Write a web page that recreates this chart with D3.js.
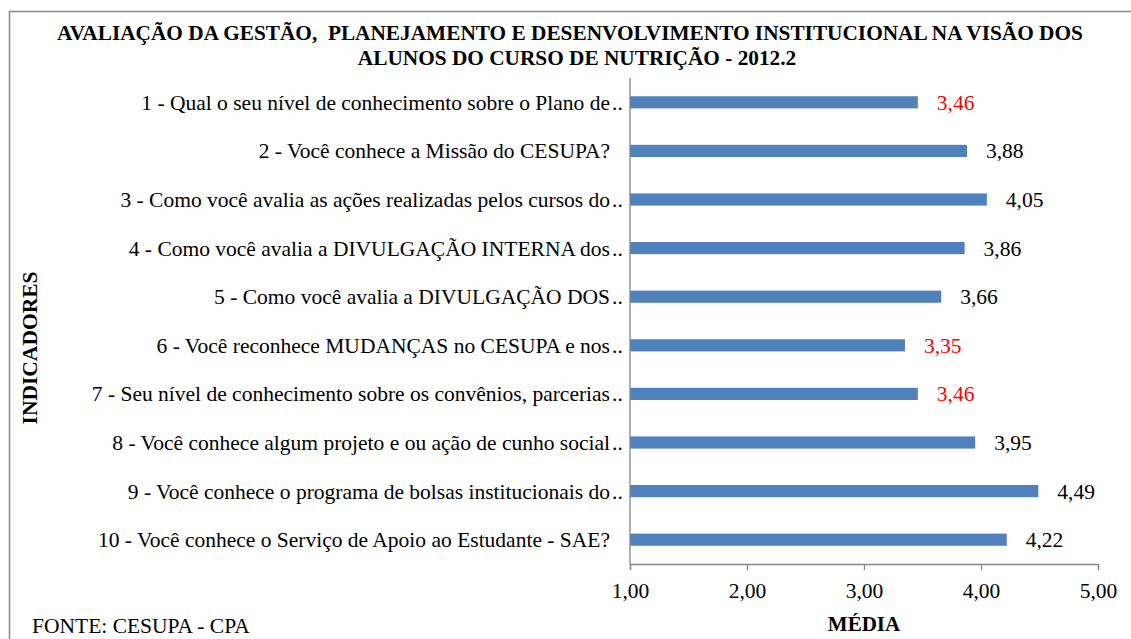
<!DOCTYPE html>
<html>
<head>
<meta charset="utf-8">
<script src="https://cdn.jsdelivr.net/npm/d3@7"></script>
<style>
  body { margin: 0; background: #fff; }
  svg text { font-family: 'Liberation Serif', 'Times New Roman', serif; }
</style>
</head>
<body>
<div id="chart-area"></div>
<script>
// data
var labels = [
    "1 - Qual o seu nível de conhecimento sobre o Plano de…",
    "2 - Você conhece a Missão do CESUPA?",
    "3 - Como você avalia as ações realizadas pelos cursos do…",
    "4 - Como você avalia a DIVULGAÇÃO INTERNA dos…",
    "5 - Como você avalia a DIVULGAÇÃO DOS…",
    "6 - Você reconhece MUDANÇAS no CESUPA e nos…",
    "7 - Seu nível de conhecimento sobre os convênios, parcerias…",
    "8 - Você conhece algum projeto e ou ação de cunho social…",
    "9 - Você conhece o programa de bolsas institucionais do…",
    "10 - Você conhece o Serviço de Apoio ao Estudante - SAE?"
];
var values = [3.46, 3.88, 4.05, 3.86, 3.66, 3.35, 3.46, 3.95, 4.49, 4.22];
var xTicks = [1, 2, 3, 4, 5];
var titleLines = [
    "AVALIAÇÃO DA GESTÃO,  PLANEJAMENTO E DESENVOLVIMENTO INSTITUCIONAL NA VISÃO DOS",
    "ALUNOS DO CURSO DE NUTRIÇÃO - 2012.2"
];

var width = 1131, height = 639;
var svg = d3.select("#chart-area").append("svg")
    .attr("width", width)
    .attr("height", height);

// outer border (right and bottom edges fall outside the picture)
svg.append("rect")
    .attr("x", 9.5).attr("y", 11.5)
    .attr("width", 1140).attr("height", 660)
    .attr("fill", "none")
    .attr("stroke", "#888")
    .attr("stroke-width", 1.5);

var fmt = function(d) { return d3.format(".2f")(d).replace(".", ","); };

var x = d3.scaleLinear().domain([1, 5]).range([630, 1098]);
var y = d3.scaleBand().domain(labels).range([78, 564])
    .paddingInner(0.75).paddingOuter(0.375);

// title
svg.selectAll(".title").data(titleLines).enter().append("text")
    .attr("class", "title")
    .attr("x", (d, i) => i == 0 ? 570 : 577)
    .attr("y", (d, i) => 40 + i * 25)
    .attr("text-anchor", "middle")
    .attr("font-size", "21.3px")
    .attr("font-weight", "bold")
    .style("white-space", "pre")
    .text(d => d);

// bars
svg.selectAll(".bar").data(values).enter().append("rect")
    .attr("class", "bar")
    .attr("x", x(1))
    .attr("y", (d, i) => y(labels[i]))
    .attr("width", d => x(d) - x(1))
    .attr("height", y.bandwidth())
    .attr("fill", "#4F81BD");

// value labels
svg.selectAll(".val").data(values).enter().append("text")
    .attr("class", "val")
    .attr("x", d => x(d) + 19)
    .attr("y", (d, i) => y(labels[i]) + y.bandwidth() / 2 + 7.5)
    .attr("font-size", "21.5px")
    .attr("fill", d => d < 3.5 ? "#FF0000" : "#000")
    .text(d => fmt(d));

// category labels: text right-aligned, the cut ones get two dots after
svg.selectAll(".cat").data(labels).enter().append("text")
    .attr("class", "cat")
    .attr("x", 610)
    .attr("y", d => y(d) + y.bandwidth() / 2 + 7.5)
    .attr("text-anchor", "end")
    .attr("font-size", "21.5px")
    .attr("fill", "#000")
    .text(d => d.replace("…", ""));

svg.selectAll(".dots").data(labels.filter(d => d.endsWith("…"))).enter().append("text")
    .attr("class", "dots")
    .attr("x", 612)
    .attr("y", d => y(d) + y.bandwidth() / 2 + 7.5)
    .attr("font-size", "21.5px")
    .attr("fill", "#000")
    .text("..");

// x axis
var xAxis = d3.axisBottom(x).tickValues(xTicks).tickSize(6).tickFormat(fmt);
var gx = svg.append("g")
    .attr("transform", "translate(0," + 564 + ")")
    .call(xAxis);
gx.attr("font-family", null).attr("font-size", null);
gx.select(".domain").attr("stroke", "#868686").attr("stroke-width", 1.3);
gx.selectAll(".tick line").attr("stroke", "#868686").attr("stroke-width", 1.3);
gx.selectAll(".tick text")
    .attr("y", 34)
    .attr("dy", null)
    .attr("font-size", "21.5px")
    .attr("fill", "#000");

// y axis line
svg.append("line")
    .attr("x1", x(1)).attr("x2", x(1))
    .attr("y1", 78).attr("y2", 564)
    .attr("stroke", "#868686")
    .attr("stroke-width", 1.3);

// axis titles
svg.append("text")
    .attr("x", 864).attr("y", 631)
    .attr("text-anchor", "middle")
    .attr("font-size", "21px")
    .attr("font-weight", "bold")
    .text("MÉDIA");

svg.append("text")
    .attr("transform", "translate(37,348) rotate(-90)")
    .attr("text-anchor", "middle")
    .attr("font-size", "21.5px")
    .attr("font-weight", "bold")
    .text("INDICADORES");

svg.append("text")
    .attr("x", 32).attr("y", 633)
    .attr("font-size", "21.5px")
    .text("FONTE: CESUPA - CPA");
</script>
</body>
</html>
